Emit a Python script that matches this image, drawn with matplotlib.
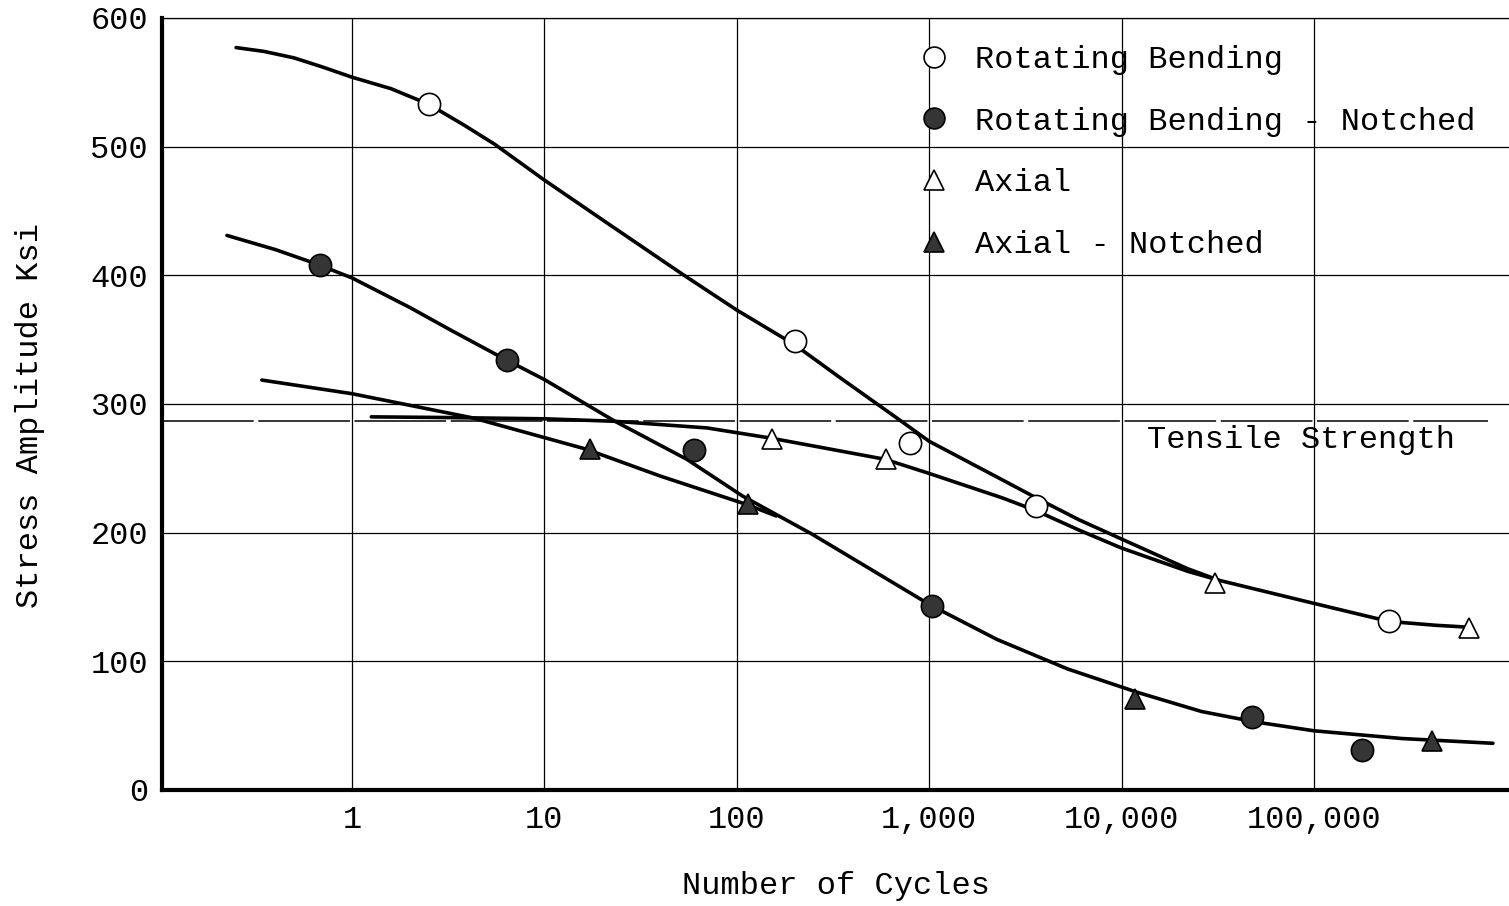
#!/usr/bin/env python3
"""Fatigue curves: stress amplitude vs number of cycles."""

import matplotlib
matplotlib.use('Agg')
import matplotlib.pyplot as plt
from matplotlib.lines import Line2D

FONT = 'Liberation Mono'
plt.rcParams['font.family'] = [FONT, 'DejaVu Sans Mono']

# Test points.
RB_X = [2.5, 200, 790, 3600, 245000]
RB_Y = [533, 349, 270, 221, 131]
RBN_X = [0.68, 6.4, 60, 1030, 47500, 178000]
RBN_Y = [408, 334, 264, 143, 57, 31]
AX_X = [152, 596, 30600, 640000]
AX_Y = [273, 257, 161, 126]
AXN_X = [17.3, 114, 11700, 410000]
AXN_Y = [265, 222, 71, 38]

# Hand-drawn fit curves.
RB_CURVE_X = [0.25, 0.35, 0.5, 0.7, 1, 1.6, 2.5, 3.8, 5.5, 10, 22, 52, 100,
              200, 340, 680, 1000, 2400, 3600, 6000, 10000, 22000, 32000,
              100000, 245000, 430000, 640000]
RB_CURVE_Y = [577, 574, 569, 562, 554, 545, 533, 517, 502, 474, 439, 401, 373,
              346, 321, 289, 271, 241, 227, 210, 195, 172, 163,
              145, 131, 128, 126.5]
RBN_CURVE_X = [0.224, 0.4, 0.65, 1, 2, 3.3, 6.2, 10, 23, 55, 107, 245, 1020,
               2250, 5250, 10000, 12000, 26000, 49000, 100000, 286000,
               850000]
RBN_CURVE_Y = [431, 420, 409, 398, 375, 357, 335, 319, 287, 257, 228.5,
               199, 143.5, 117, 94, 80, 76, 61, 53, 46, 40,
               36.3]
AX_CURVE_X = [1.26, 3, 10, 23, 70, 150, 280, 590, 1000, 2400, 3600, 6000,
              10000, 22000, 32000]
AX_CURVE_Y = [290, 289.5, 288.5, 286.6, 281.4, 273.5, 266, 257, 246, 227,
              217, 202, 188, 170, 163]
AXN_CURVE_X = [0.34, 1, 4.3, 16.4, 40, 112, 160]
AXN_CURVE_Y = [318.6, 308, 289, 265, 244, 222, 213]

TENSILE = 287
TENSILE_X = [0.103, 800000]

X_TICKS = [1, 10, 100, 1000, 10000, 100000]
X_LABELS = ['1', '10', '100', '1,000', '10,000', '100,000']
Y_TICKS = [0, 100, 200, 300, 400, 500, 600]

FILL = '#353535'
FS = 23


def main():
  fig = plt.figure(figsize=(15.09, 9.06), dpi=100)
  ax = fig.add_axes([0.10736, 0.12804, 0.89264, 0.85210])

  ax.set_xscale('log')
  ax.set_xlim(0.103, 1.03e6)
  ax.set_ylim(0, 600)

  ax.set_xticks(X_TICKS)
  ax.set_xticklabels(X_LABELS)
  ax.set_yticks(Y_TICKS)
  ax.xaxis.set_minor_locator(matplotlib.ticker.NullLocator())
  ax.tick_params(axis='both', length=0, labelsize=FS)
  ax.tick_params(axis='x', pad=11)
  ax.tick_params(axis='y', pad=10)
  ax.grid(True, color='black', linewidth=0.9)
  ax.set_axisbelow(True)

  ax.spines['right'].set_visible(False)
  ax.spines['top'].set_linewidth(0.9)
  ax.spines['left'].set_linewidth(3)
  ax.spines['bottom'].set_linewidth(3)

  # Tensile strength reference line.
  ax.plot(TENSILE_X, [TENSILE, TENSILE], color='black', linewidth=1.1,
          dashes=(60, 3), zorder=2)
  ax.text(13500, 272, 'Tensile Strength', fontsize=FS, ha='left',
          va='center')

  line_kw = dict(color='black', linewidth=2.6, solid_capstyle='round',
                 solid_joinstyle='round', zorder=3)
  ax.plot(RB_CURVE_X, RB_CURVE_Y, **line_kw)
  ax.plot(RBN_CURVE_X, RBN_CURVE_Y, **line_kw)
  ax.plot(AX_CURVE_X, AX_CURVE_Y, **line_kw)
  ax.plot(AXN_CURVE_X, AXN_CURVE_Y, **line_kw)

  mk = dict(linestyle='none', markeredgecolor='black', zorder=4,
            markeredgewidth=1.2)
  ax.plot(RB_X, RB_Y, 'o', markersize=16, markerfacecolor='white', **mk)
  ax.plot(RBN_X, RBN_Y, 'o', markersize=16, markerfacecolor=FILL, **mk)
  ax.plot(AX_X, AX_Y, '^', markersize=14, markerfacecolor='white', **mk)
  ax.plot(AXN_X, AXN_Y, '^', markersize=14, markerfacecolor=FILL, **mk)

  handles = [
      Line2D([], [], marker='o', markersize=15, markerfacecolor='white',
             **mk),
      Line2D([], [], marker='o', markersize=15, markerfacecolor=FILL,
             **mk),
      Line2D([], [], marker='^', markersize=14, markerfacecolor='white',
             **mk),
      Line2D([], [], marker='^', markersize=14, markerfacecolor=FILL,
             **mk),
  ]
  labels = ['Rotating Bending', 'Rotating Bending - Notched', 'Axial',
            'Axial - Notched']
  leg = ax.legend(handles, labels, loc='upper left',
                  bbox_to_anchor=(0.561, 0.965), frameon=False,
                  fontsize=FS, handlelength=1.0, handletextpad=0.79,
                  labelspacing=0.99, borderpad=0, borderaxespad=0)
  leg.set_zorder(5)

  ax.set_xlabel('Number of Cycles', fontsize=FS)
  ax.set_ylabel('Stress Amplitude Ksi', fontsize=FS)
  ax.xaxis.set_label_coords(0.5, -0.105)
  ax.yaxis.set_label_coords(-0.087, 0.485)

  fig.savefig('out.png', dpi=100)
  plt.close(fig)


if __name__ == '__main__':
  main()
